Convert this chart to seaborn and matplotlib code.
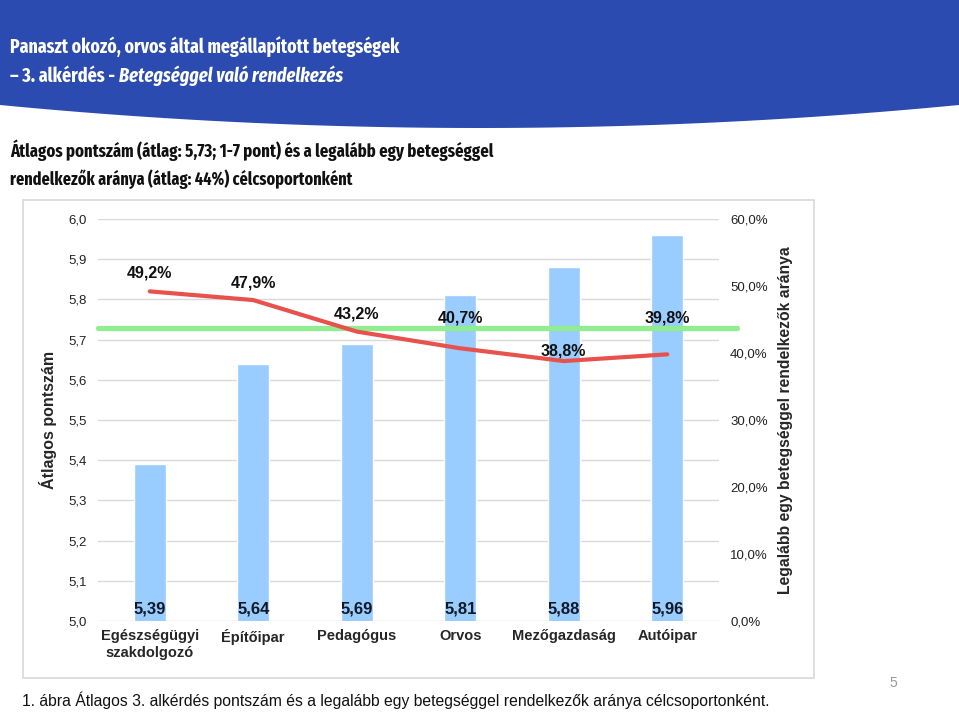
import numpy as np
import pandas as pd
import matplotlib
matplotlib.use("Agg")
import matplotlib.pyplot as plt
import seaborn as sns
from matplotlib.patches import Polygon, Rectangle

# ---------------------------------------------------------
# DATA
# ---------------------------------------------------------
categories = ['Egészségügyi\nszakdolgozó', 'Építőipar', 'Pedagógus', 'Orvos', 'Mezőgazdaság', 'Autóipar']
scores = [5.39, 5.64, 5.69, 5.81, 5.88, 5.96]
share = [0.492, 0.479, 0.432, 0.407, 0.388, 0.398]
avg_score = 5.73
left_ticks = [5.0, 5.1, 5.2, 5.3, 5.4, 5.5, 5.6, 5.7, 5.8, 5.9, 6.0]
right_ticks = [0.0, 0.1, 0.2, 0.3, 0.4, 0.5, 0.6]
# vertical offsets (px) of the percent labels above the line points
label_dy = [18, 17, 18, 30, 10, 36]

W, H = 959, 713
sns.set_style("white")
plt.rcParams['font.family'] = ['Liberation Sans', 'DejaVu Sans']

fig = plt.figure(figsize=(W / 100, H / 100), dpi=100)
fig.patch.set_facecolor('white')

def fx(x):
    return x / W

def fy(y):
    return 1 - y / H

# ---------------------------------------------------------
# HEADER BAND
# ---------------------------------------------------------
xs = np.linspace(0, W, 60)
curve = 105 + 23 * (1 - ((xs - W / 2) / (W / 2)) ** 2)
pts = [(fx(0), fy(0)), (fx(W), fy(0))] + [(fx(x), fy(y)) for x, y in zip(xs[::-1], curve[::-1])]
fig.patches.append(Polygon(pts, closed=True, transform=fig.transFigure,
                           facecolor='#2b4bb0', edgecolor='none', zorder=0))

narrow = ['Fira Sans Extra Condensed', 'Roboto Condensed', 'Liberation Sans', 'DejaVu Sans']
renderer = fig.canvas.get_renderer()

def fitted_line(x, y, parts, target_w, color, max_size=16.5):
    # parts: list of (text, style); size is fitted so the line spans target_w px
    texts = []
    for s, st in parts:
        texts.append(fig.text(0, 0, s, fontsize=16, family=narrow, fontweight='bold',
                              style=st, color=color, va='baseline'))
    width = sum(t.get_window_extent(renderer).width for t in texts)
    size = min(max_size, 16 * target_w / width)
    cur = x
    for t in texts:
        t.set_fontsize(size)
        t.set_position((fx(cur), fy(y)))
        cur += t.get_window_extent(renderer).width

fitted_line(10, 53, [('Panaszt okozó, orvos által megállapított betegségek', 'normal')], 390, 'white')
fitted_line(10, 82, [('– 3. alkérdés - ', 'normal'), ('Betegséggel való rendelkezés', 'italic')], 333, 'white')
fitted_line(10, 157, [('Átlagos pontszám (átlag: 5,73; 1-7 pont) és a legalább egy betegséggel', 'normal')],
            482, '#111111')
fitted_line(10, 185, [('rendelkezők aránya (átlag: 44%) célcsoportonként', 'normal')], 340, '#111111')

# chart frame
fig.patches.append(Rectangle((fx(23), fy(678)), fx(814) - fx(23), fy(200) - fy(678),
                             transform=fig.transFigure, facecolor='none',
                             edgecolor='#d9d9d9', lw=1.2, zorder=0))

# ---------------------------------------------------------
# CHART
# ---------------------------------------------------------
ax = fig.add_axes([fx(98), fy(621), fx(719) - fx(98), fy(219) - fy(621)])
df = pd.DataFrame({'cat': categories, 'score': scores})
sns.barplot(data=df, x='cat', y='score', color='#99ccff', saturation=1,
            width=0.31, ax=ax, zorder=2)
ax.set_ylim(5.0, 6.0)
ax.set_yticks(left_ticks)
ax.set_yticklabels([f'{v:.1f}'.replace('.', ',') for v in left_ticks], fontsize=9.5, color='#222222')
ax.grid(axis='y', color='#d9d9d9', lw=1, zorder=0)
ax.set_axisbelow(True)
for s in ax.spines.values():
    s.set_visible(False)
ax.tick_params(axis='both', length=0)
ax.tick_params(axis='y', pad=8)
ax.tick_params(axis='x', pad=6)
ax.set_xlabel('')
ax.set_ylabel('Átlagos pontszám', fontsize=11.5, fontweight='bold', labelpad=8)
for lab in ax.get_xticklabels():
    lab.set_fontweight('bold')
    lab.set_fontsize(10.5)
for i, v in enumerate(scores):
    ax.text(i, 5.012, f'{v:.2f}'.replace('.', ','), ha='center', va='bottom',
            fontsize=12, fontweight='bold', color='#111827', zorder=5)

# average line (extends a bit past the plot area)
ax.axhline(avg_score, xmin=0, xmax=(737 - 98) / (719 - 98), color='#90ee90',
           lw=3.8, clip_on=False, zorder=3)

ax2 = ax.twinx()
sns.lineplot(x=np.arange(len(share)), y=share, ax=ax2, color='#e8524c', lw=3, zorder=4)
ax2.set_ylim(0, 0.6)
ax2.set_yticks(right_ticks)
ax2.set_yticklabels([f'{v * 100:.1f}%'.replace('.', ',') for v in right_ticks],
                    fontsize=9.5, color='#222222')
ax2.tick_params(axis='y', length=0, pad=8)
for s in ax2.spines.values():
    s.set_visible(False)
ax2.set_ylabel('Legalább egy betegséggel rendelkezők aránya', fontsize=11.3,
               fontweight='bold', labelpad=7)
for i, (v, dy) in enumerate(zip(share, label_dy)):
    ax2.annotate(f'{v * 100:.1f}%'.replace('.', ','), (i, v), xytext=(0, dy * 0.72),
                 textcoords='offset points', ha='center', va='center',
                 fontsize=11.5, fontweight='bold', color='#111111')
ax.set_xlim(-0.5, len(categories) - 0.5)

# ---------------------------------------------------------
# CAPTION / PAGE NUMBER
# ---------------------------------------------------------
fig.text(fx(22), fy(700), '1. ábra Átlagos 3. alkérdés pontszám és a legalább egy betegséggel rendelkezők aránya célcsoportonként.',
         fontsize=11.3, color='#111111', va='center')
fig.text(fx(893), fy(683), '5', fontsize=10, color='#999999', ha='center', va='center')

fig.savefig('out.png', dpi=100)
